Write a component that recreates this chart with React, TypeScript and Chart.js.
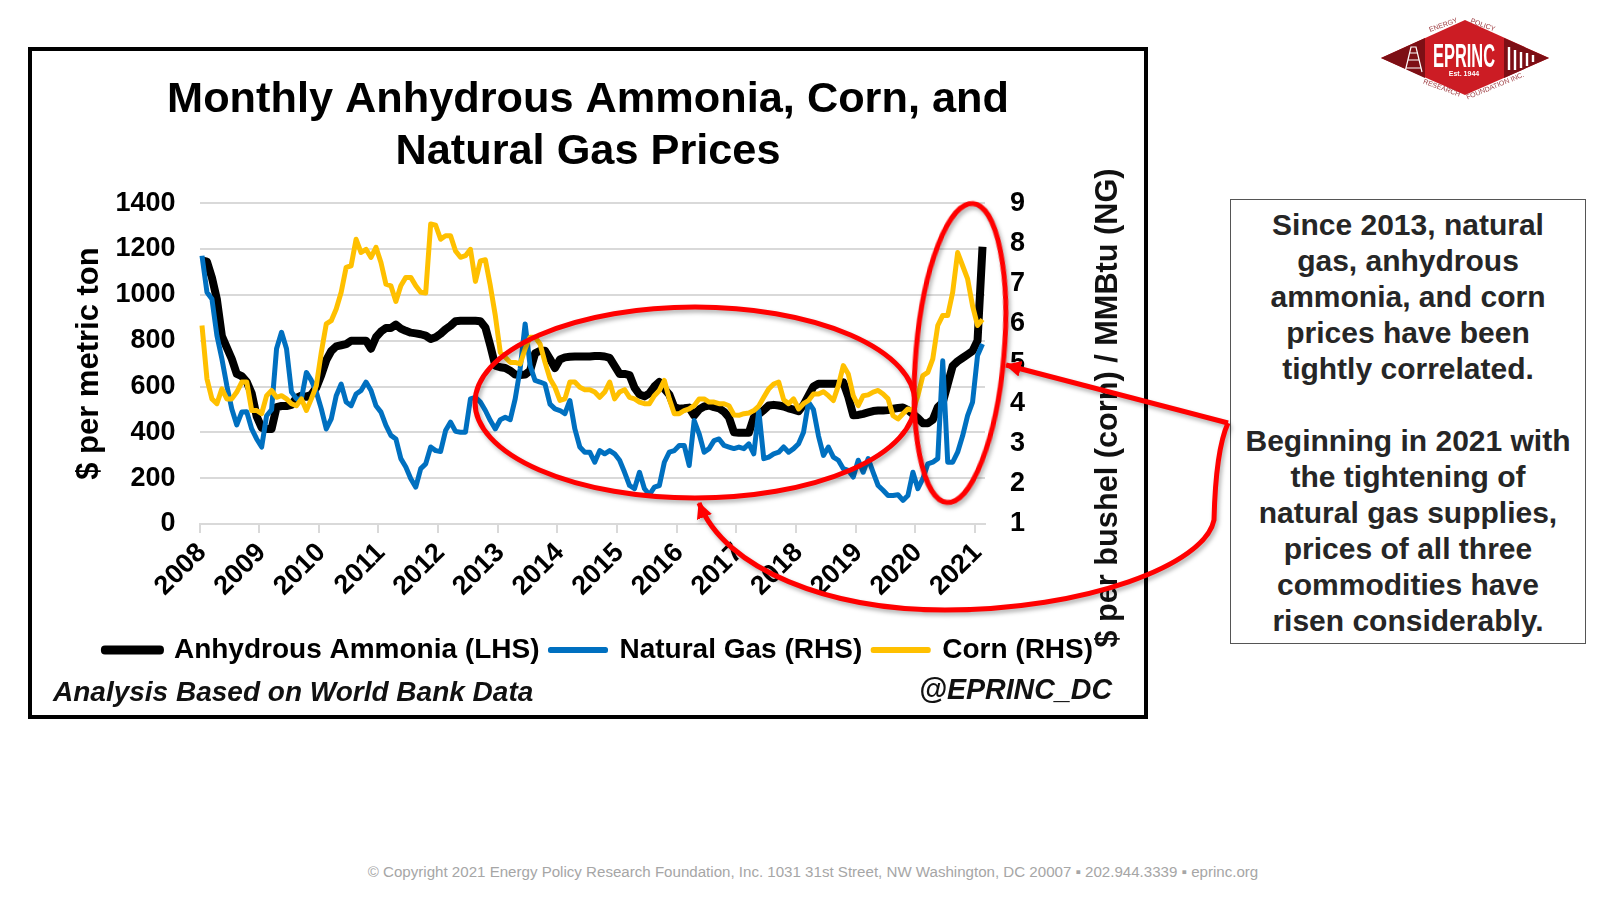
// App.tsx
import { useEffect, useRef } from "react";
import { Chart, registerables } from "chart.js";

Chart.register(...registerables);

const FONT = "'Liberation Sans', Arial, sans-serif";

const yearLabels = ["2008", "2009", "2010", "2011", "2012", "2013", "2014", "2015", "2016", "2017", "2018", "2019", "2020", "2021"];
const monthNames = ["01", "02", "03", "04", "05", "06", "07", "08", "09", "10", "11", "12"];
// monthly categories, Jan 2008 to Feb 2021
const months = yearLabels.flatMap((y) => monthNames.map((m) => y + "-" + m)).slice(0, 158);

const ammonia = [
  1150, 1145, 1075, 980, 820, 770, 720, 655, 645, 620, 570, 470,
  420, 415, 415, 510, 515, 515, 520, 550, 560, 555, 565, 595,
  650, 715, 755, 775, 780, 785, 800, 800, 800, 800, 765, 815,
  840, 855, 855, 870, 853, 843, 835, 832, 828, 822, 807, 815,
  830, 850, 865, 885, 887, 887, 887, 887, 885, 858, 778, 691,
  684, 681, 669, 652, 650, 652, 669, 745, 756, 756, 720, 681,
  718, 727, 730, 731, 731, 731, 731, 733, 733, 731, 725, 690,
  655, 655, 650, 595, 565, 557, 570, 600, 620, 590, 565, 510,
  503, 505, 508, 473, 500, 513, 517, 510, 505, 490, 465, 400,
  398, 398, 398, 465, 480, 497, 517, 520, 517, 513, 505, 499,
  492, 520, 560, 600, 612, 612, 612, 612, 612, 618, 555, 475,
  476, 481, 487, 493, 495, 495, 497, 503, 506, 508, 497, 480,
  462, 440, 440, 455, 510, 530, 610, 690, 710, 725, 740, 755,
  800, 1210,
];

const naturalGas = [
  7.69, 6.78, 6.61, 5.7, 5.12, 4.45, 3.87, 3.47, 3.79, 3.8, 3.37, 3.12,
  2.92, 3.7, 3.85, 5.37, 5.78, 5.37, 4.29, 4.12, 4.12, 4.78, 4.58, 4.29,
  3.87, 3.37, 3.62, 4.2, 4.49, 4.04, 3.95, 4.24, 4.33, 4.54, 4.33, 3.95,
  3.79, 3.46, 3.21, 3.12, 2.63, 2.42, 2.13, 1.92, 2.38, 2.5, 2.92, 2.83,
  2.81, 3.33, 3.54, 3.31, 3.29, 3.29, 4.12, 4.16, 4.04, 3.83, 3.58, 3.37,
  3.6, 3.66, 3.6, 4.12, 4.87, 5.99, 4.95, 4.58, 4.54, 4.49, 3.99, 3.87,
  3.83, 3.75, 4.08, 3.37, 2.92, 2.79, 2.79, 2.54, 2.83, 2.75, 2.83, 2.75,
  2.59, 2.29, 1.96, 1.88, 2.29, 1.88, 1.73, 1.92, 1.96, 2.54, 2.79, 2.83,
  2.96, 2.96, 2.46, 3.58, 3.25, 2.79, 2.88, 3.08, 3.12, 2.96, 2.92, 2.88,
  2.92, 2.88, 3.0, 2.75, 3.83, 2.63, 2.67, 2.75, 2.79, 2.92, 2.79, 2.88,
  3.0, 3.29, 4.04, 3.85, 3.2, 2.71, 2.92, 2.67, 2.59, 2.38, 2.34, 2.17,
  2.59, 2.29, 2.63, 2.29, 1.96, 1.84, 1.71, 1.71, 1.73, 1.59, 1.71, 2.29,
  1.88, 2.13, 2.5, 2.54, 2.63, 5.07, 2.54, 2.54, 2.79, 3.2, 3.7, 4.04,
  5.2, 5.49,
];

const corn = [
  5.95, 4.62, 4.12, 4.0, 4.37, 4.12, 4.12, 4.29, 4.54, 4.54, 3.83, 3.83,
  3.75, 4.2, 4.33, 4.16, 4.2, 4.12, 4.0, 3.95, 4.12, 3.83, 4.12, 4.45,
  5.28, 5.99, 6.07, 6.36, 6.78, 7.4, 7.44, 8.1, 7.77, 7.85, 7.65, 7.9,
  7.52, 6.98, 6.94, 6.55, 6.94, 7.15, 7.15, 6.94, 6.78, 6.76, 8.48, 8.45,
  8.1, 8.19, 8.19, 7.81, 7.65, 7.69, 7.85, 7.05, 7.56, 7.59, 6.94, 6.2,
  5.28, 5.16, 5.03, 5.03, 4.99, 5.37, 5.66, 5.66, 5.49, 5.03, 4.62, 4.41,
  4.08, 4.12, 4.54, 4.54, 4.41, 4.35, 4.35, 4.29, 4.16, 4.29, 4.54, 4.12,
  4.29, 4.35, 4.16, 4.12, 4.04, 4.0, 4.0, 4.2, 4.33, 4.58, 4.12, 3.75,
  3.75, 3.83, 3.87, 3.95, 4.12, 4.12, 4.04, 4.04, 4.0, 4.0, 3.95, 3.72,
  3.71, 3.75, 3.77, 3.83, 3.94, 4.16, 4.37, 4.49, 4.54, 4.1, 4.0, 4.12,
  3.87, 4.0, 4.08, 4.24, 4.24, 4.3, 4.2, 4.08, 4.45, 4.95, 4.74, 4.2,
  3.95, 4.2, 4.22, 4.29, 4.33, 4.24, 4.12, 3.7, 3.62, 3.75, 3.87, 3.83,
  4.2, 4.7, 4.78, 5.12, 5.95, 6.2, 6.2, 6.78, 7.77, 7.44, 7.11, 6.44,
  5.95, 6.1,
];

const leftTicks = [0, 200, 400, 600, 800, 1000, 1200, 1400];
const rightTicks = [1, 2, 3, 4, 5, 6, 7, 8, 9];

const noteLines = [
  "Since 2013, natural", "gas, anhydrous", "ammonia, and corn", "prices have been", "tightly correlated.",
  "",
  "Beginning in 2021 with", "the tightening of", "natural gas supplies,", "prices of all three", "commodities have", "risen considerably.",
];

function Logo() {
  return (
    <g fontFamily={FONT}>
      <polygon points="1381,58 1465,20 1549,58 1465,95" fill="#cc1c24" />
      <polygon points="1381,58 1425,38 1425,78" fill="#7d0f15" />
      <polygon points="1549,58 1504,38 1504,78" fill="#7d0f15" />
      {/* derrick */}
      <g stroke="#fff" strokeWidth="1.2" fill="none">
        <path d="M1405 72 L1411 47 L1416 47 L1422 72 M1408 60 L1419 60 M1406 68 L1421 68 M1409 53 L1418 53" />
      </g>
      {/* fence */}
      <g stroke="#fff" strokeWidth="2.4">
        <path d="M1509 47 V70 M1515 50 V70 M1521 52 V68 M1527 53 V66 M1533 55 V62" />
      </g>
      <text x="1464" y="67" fill="#fff" fontSize="33" fontWeight="bold" textAnchor="middle" textLength="62" lengthAdjust="spacingAndGlyphs">EPRINC</text>
      <text x="1464" y="76" fill="#fff" fontSize="7" fontWeight="bold" textAnchor="middle">Est. 1944</text>
      <g fill="#9c3a3f" fontSize="7" textAnchor="middle">
        <text transform="translate(1444 27) rotate(-20)">ENERGY</text>
        <text transform="translate(1482 27) rotate(20)">POLICY</text>
        <text transform="translate(1441 90) rotate(20)">RESEARCH</text>
        <text transform="translate(1496 88) rotate(-22)">FOUNDATION INC.</text>
      </g>
    </g>
  );
}

// the title is centred on the whole frame, the legend is not
const centreTitle = {
  id: "centreTitle",
  afterLayout: (chart: any) => {
    chart.titleBlock.left = 0;
  },
};

export default function App() {
  const chartRef = useRef<HTMLCanvasElement | null>(null);

  useEffect(() => {
    if (!chartRef.current) return;

    const chart = new Chart(chartRef.current, {
      type: "line",
      plugins: [centreTitle],
      data: {
        labels: months,
        datasets: [
          {
            label: "Anhydrous Ammonia (LHS)",
            data: ammonia,
            yAxisID: "y",
            borderColor: "#000000",
            backgroundColor: "#000000",
            borderWidth: 8,
            order: 3,
          },
          {
            label: "Natural Gas (RHS)",
            data: naturalGas,
            yAxisID: "y1",
            borderColor: "#0070C0",
            backgroundColor: "#0070C0",
            borderWidth: 5,
            order: 2,
          },
          {
            label: "Corn (RHS)",
            data: corn,
            yAxisID: "y1",
            borderColor: "#FFC000",
            backgroundColor: "#FFC000",
            borderWidth: 5,
            order: 1,
          },
        ],
      },
      options: {
        animation: false,
        responsive: true,
        maintainAspectRatio: false,
        elements: { point: { radius: 0 }, line: { tension: 0, borderJoinStyle: "round" } },
        layout: { padding: { left: 22, right: 0, top: 0, bottom: 41 } },
        plugins: {
          tooltip: { enabled: false },
          title: {
            display: true,
            text: ["Monthly Anhydrous Ammonia, Corn, and", "Natural Gas Prices"],
            color: "#000000",
            font: { family: FONT, size: 43.3, weight: "bold", lineHeight: 1.18 },
            padding: { top: 24, bottom: 26 },
          },
          legend: {
            position: "bottom",
            labels: {
              color: "#000000",
              font: { family: FONT, size: 28, weight: "bold" },
              boxWidth: 55,
              boxHeight: 1,
              padding: 11,
              sort: (a: any, b: any) => a.datasetIndex - b.datasetIndex,
            },
          },
        },
        scales: {
          x: {
            offset: true,
            grid: {
              offset: true,
              drawOnChartArea: false,
              tickLength: 9,
              lineWidth: 2,
              // a tick mark only at each January
              tickColor: (ctx: any) => (ctx.index % 12 === 0 ? "#d9d9d9" : "rgba(0,0,0,0)"),
            },
            border: { color: "#d9d9d9", width: 2 },
            ticks: {
              autoSkip: false,
              minRotation: 45,
              maxRotation: 45,
              color: "#000000",
              padding: 4,
              font: { family: FONT, size: 27, weight: "bold" },
              callback: (_v: any, i: number) => (i % 12 === 0 ? months[i].slice(0, 4) : ""),
            },
            afterFit: (scale: any) => {
              scale.height = 101;
            },
          },
          y: {
            position: "left",
            min: leftTicks[0],
            max: leftTicks[leftTicks.length - 1],
            grid: { color: "#d9d9d9", lineWidth: 2, drawTicks: false },
            border: { display: false },
            ticks: {
              stepSize: 200,
              padding: 24,
              color: "#000000",
              font: { family: FONT, size: 27, weight: "bold" },
              callback: (v: any) => String(v),
            },
            title: {
              display: true,
              text: "$ per metric ton",
              color: "#000000",
              font: { family: FONT, size: 31, weight: "bold" },
              padding: { top: 16.6, bottom: 0 },
            },
            afterFit: (scale: any) => {
              scale.width = 145.5;
            },
          },
          y1: {
            position: "right",
            min: rightTicks[0],
            max: rightTicks[rightTicks.length - 1],
            grid: { drawOnChartArea: false, drawTicks: false },
            border: { display: false },
            ticks: {
              stepSize: 1,
              padding: 25,
              color: "#000000",
              font: { family: FONT, size: 27, weight: "bold" },
            },
            afterFit: (scale: any) => {
              scale.width = 159;
            },
          },
        },
      },
    });

    return () => {
      chart.destroy();
    };
  }, []);

  return (
    <div style={{ position: "absolute", left: 0, top: 0, width: 1600, height: 900, overflow: "hidden", background: "#fff", fontFamily: FONT }}>
      <div style={{ position: "absolute", left: 28, top: 47, width: 1112, height: 664, border: "4px solid #000" }}>
        <canvas ref={chartRef}></canvas>
      </div>

      <div style={{ position: "absolute", left: 53, top: 674, fontSize: 28, fontWeight: "bold", fontStyle: "italic", lineHeight: "36px", color: "#111" }}>
        Analysis Based on World Bank Data
      </div>
      <div style={{ position: "absolute", left: 919, top: 671, fontSize: 28.6, fontWeight: "bold", fontStyle: "italic", lineHeight: "36px", color: "#111" }}>
        @EPRINC_DC
      </div>

      <div style={{ position: "absolute", left: 1107, top: 408, transform: "translate(-50%, -50%) rotate(-90deg)", fontSize: 30.7, fontWeight: "bold", whiteSpace: "nowrap", color: "#111" }}>
        $ per bushel (corn) / MMBtu (NG)
      </div>

      <div style={{ position: "absolute", left: 1230, top: 199, width: 354, height: 436, border: "1px solid #555", textAlign: "center", fontSize: 30, fontWeight: "bold", lineHeight: "36px", color: "#262626", paddingTop: 7, boxSizing: "content-box" }}>
        {noteLines.map((line, i) => (
          <div key={i} style={{ height: 36 }}>{line}</div>
        ))}
      </div>

      <div style={{ position: "absolute", left: 0, width: 1626, top: 863, textAlign: "center", fontSize: 15.1, color: "#a6a6a6" }}>
        © Copyright 2021 Energy Policy Research Foundation, Inc. 1031 31st Street, NW Washington, DC 20007 ▪ 202.944.3339 ▪ eprinc.org
      </div>

      <svg width="1600" height="900" style={{ position: "absolute", left: 0, top: 0, pointerEvents: "none" }}>
        <defs>
          <marker id="head" markerUnits="userSpaceOnUse" markerWidth="18" markerHeight="18" refX="15" refY="8" orient="auto">
            <path d="M0 0 L16 8 L0 16 Z" fill="#ff0000" />
          </marker>
        </defs>
        <g fill="none" stroke="#ff0000" strokeWidth="5" style={{ filter: "drop-shadow(2px 3px 2px rgba(0,0,0,0.3))" }}>
          <ellipse cx="695" cy="402.5" rx="220" ry="95.5" />
          <ellipse cx="960" cy="353" rx="44" ry="150" transform="rotate(5 960 353)" />
          <path d="M1228 423 L1006 365" markerEnd="url(#head)" />
          <path d="M1228 423 C1218 445,1215 480,1214 520 C1205 565,1085 610,945 610 C830 610,725 570,699 503" markerEnd="url(#head)" />
        </g>
        <Logo />
      </svg>
    </div>
  );
}
